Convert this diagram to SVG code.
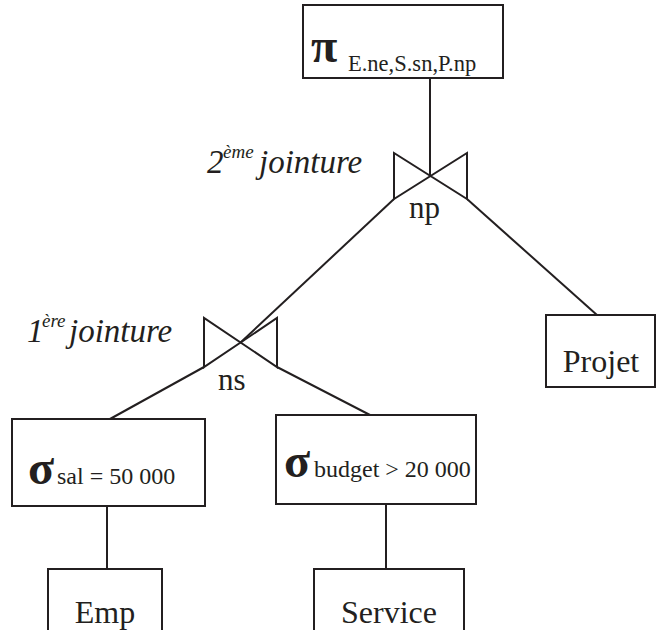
<svg xmlns="http://www.w3.org/2000/svg" width="657" height="630" viewBox="0 0 657 630">
<style>
.box{fill:#fff;stroke:#231f20;stroke-width:2}
.ln{fill:none;stroke:#231f20;stroke-width:2}
text{font-family:"Liberation Serif","Times New Roman",serif;fill:#231f20}
.lbl{font-size:32px}
.sym{font-size:48px;font-weight:bold}
.sub{font-size:24px}
.it{font-style:italic;font-size:33px}
.sup{font-style:italic;font-size:19px}
</style>
<rect width="657" height="630" fill="#fff"/>
<g id="connectors">
<line class="ln" x1="430" y1="78" x2="430" y2="175"/>
<line class="ln" x1="394" y1="199" x2="240" y2="343"/>
<line class="ln" x1="467" y1="199" x2="597" y2="315"/>
<line class="ln" x1="204" y1="367" x2="110" y2="419"/>
<line class="ln" x1="277" y1="367" x2="370" y2="415"/>
<line class="ln" x1="107" y1="506" x2="107" y2="569"/>
<line class="ln" x1="386" y1="504" x2="386" y2="569"/>
</g>
<g id="projection">
<rect class="box" x="303" y="5" width="200" height="73"/>
<text x="311" y="62" class="sym" font-family="Liberation Serif, serif">π</text>
<text x="348" y="71" style="font-size:22.5px" font-family="Liberation Serif, serif">E.ne,S.sn,P.np</text>
</g>
<g id="join2">
<path class="ln" d="M394,153 L394,199 L467,153 L467,199 Z"/>
<text x="409" y="218" style="font-size:31px" font-family="Liberation Serif, serif">np</text>
<text x="207" y="173" class="it" font-family="Liberation Serif, serif">2</text>
<text x="223" y="158" class="sup" font-family="Liberation Serif, serif">ème</text>
<text x="259" y="173" class="it" font-family="Liberation Serif, serif">jointure</text>
</g>
<g id="join1">
<path class="ln" d="M204,318 L204,367 L277,318 L277,367 Z"/>
<text x="218" y="390" style="font-size:31px" font-family="Liberation Serif, serif">ns</text>
<text x="27" y="342" class="it" font-family="Liberation Serif, serif">1</text>
<text x="42" y="327" class="sup" font-family="Liberation Serif, serif">ère</text>
<text x="69" y="342" class="it" font-family="Liberation Serif, serif">jointure</text>
</g>
<g id="projet">
<rect class="box" x="546" y="315" width="109" height="72"/>
<text x="601" y="372" class="lbl" text-anchor="middle" font-family="Liberation Serif, serif">Projet</text>
</g>
<g id="sel-sal">
<rect class="box" x="12" y="419" width="193" height="87"/>
<text x="28" y="484" class="sym" font-family="Liberation Serif, serif">σ</text>
<text x="57" y="484" class="sub" font-family="Liberation Serif, serif">sal = 50 000</text>
</g>
<g id="sel-budget">
<rect class="box" x="276" y="415" width="200" height="89"/>
<text x="284" y="477" class="sym" font-family="Liberation Serif, serif">σ</text>
<text x="314" y="477" class="sub" font-family="Liberation Serif, serif">budget &gt; 20 000</text>
</g>
<g id="emp">
<rect class="box" x="48" y="569" width="114" height="80"/>
<text x="105" y="623" class="lbl" text-anchor="middle" font-family="Liberation Serif, serif">Emp</text>
</g>
<g id="service">
<rect class="box" x="314" y="569" width="150" height="80"/>
<text x="389" y="623" class="lbl" text-anchor="middle" font-family="Liberation Serif, serif">Service</text>
</g>
</svg>
